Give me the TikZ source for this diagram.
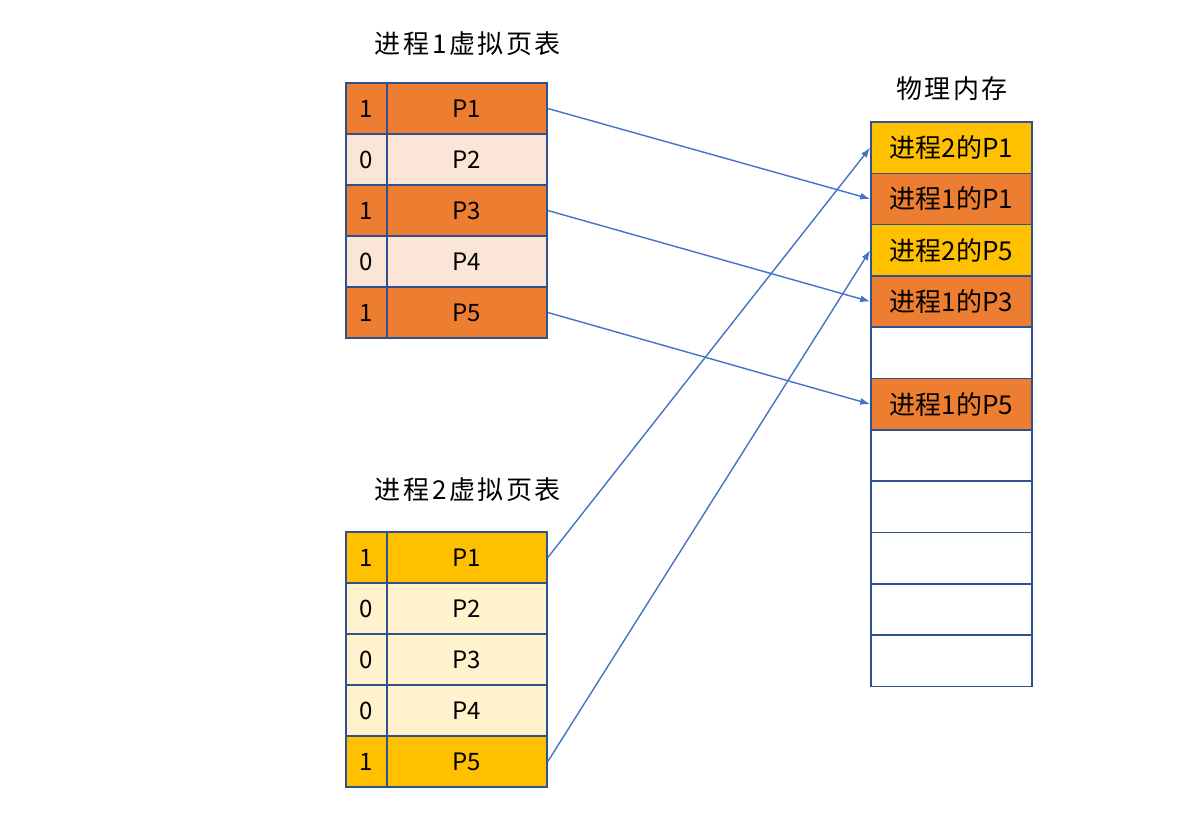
\documentclass[tikz,border=0pt]{standalone}
\usepackage{fontspec}
\setmainfont{Noto Sans CJK SC}
\newfontfamily\titlefont[LetterSpace=10]{Noto Sans CJK SC}
\usetikzlibrary{arrows.meta}

\definecolor{frame}{HTML}{2F528F}
\definecolor{linkblue}{HTML}{4472C4}
\definecolor{procA}{HTML}{ED7D31}
\definecolor{procAlt}{HTML}{FBE5D6}
\definecolor{procB}{HTML}{FFC000}
\definecolor{procBlt}{HTML}{FFF2CC}

\tikzset{
  cell/.style={draw=frame, line width=1.6pt, minimum height=51pt, inner sep=0pt,
    font=\fontsize{24}{24}\selectfont},
  flag/.style={cell, minimum width=41pt},
  page/.style={cell, minimum width=160pt},
  slot/.style={cell, minimum width=161pt, minimum height=51.3pt,
    font=\fontsize{26}{26}\selectfont},
  caption/.style={font=\titlefont\fontsize{26}{26}\selectfont},
  link/.style={draw=linkblue, line width=1.4pt, -{Latex[length=10pt,width=7pt]}},
}

\begin{document}
\begin{tikzpicture}[x=1pt, y=-1pt]
  \useasboundingbox (0,0) rectangle (1188,836);

  % page table of process 1
  \node[caption] (ta) at (468,44) {进程1虚拟页表};
  \foreach \i/\f/\col in {1/1/procA, 2/0/procAlt, 3/1/procA, 4/0/procAlt, 5/1/procA} {
    \node[flag, fill=\col] (fa\i) at (366.5, 57.5+51*\i) {\f};
    \node[page, fill=\col] (pa\i) at (467, 57.5+51*\i) {P\i};
  }

  % page table of process 2
  \node[caption] (tb) at (468,490) {进程2虚拟页表};
  \foreach \i/\f/\col in {1/1/procB, 2/0/procBlt, 3/0/procBlt, 4/0/procBlt, 5/1/procB} {
    \node[flag, fill=\col] (fb\i) at (366.5, 506.5+51*\i) {\f};
    \node[page, fill=\col] (pb\i) at (467, 506.5+51*\i) {P\i};
  }

  % physical memory
  \node[caption] (tm) at (952,89) {物理内存};
  \foreach \i/\t/\col in {1/进程2的P1/procB, 2/进程1的P1/procA, 3/进程2的P5/procB,
      4/进程1的P3/procA, 5//white, 6/进程1的P5/procA, 7//white, 8//white,
      9//white, 10//white, 11//white} {
    \node[slot, fill=\col] (m\i) at (951.5, 96.35+51.3*\i) {\t};
  }

  % mappings
  \draw[link] (pa1.east) -- (m2.west);
  \draw[link] (pa3.east) -- (m4.west);
  \draw[link] (pa5.east) -- (m6.west);
  \draw[link] (pb1.east) -- (m1.west);
  \draw[link] (pb5.east) -- (m3.west);
\end{tikzpicture}
\end{document}
